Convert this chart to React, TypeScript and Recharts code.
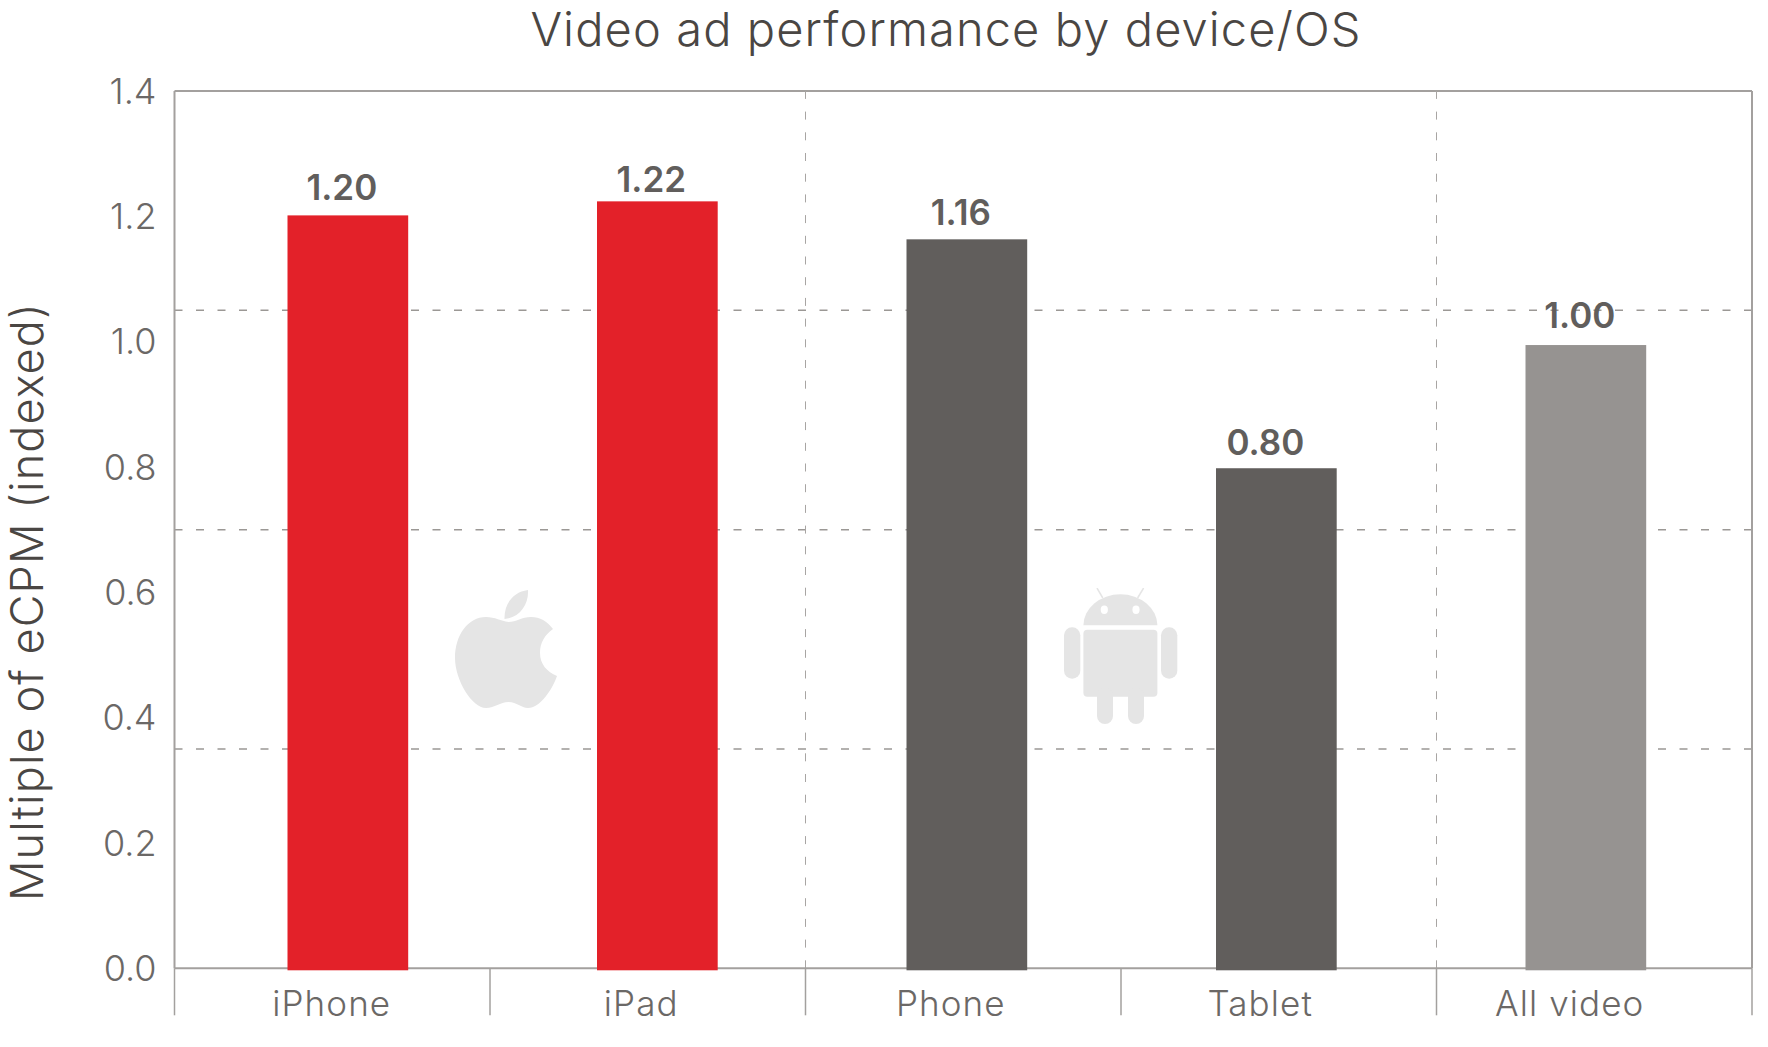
import { BarChart, Bar, XAxis, YAxis, LabelList, ReferenceLine } from 'recharts'

const categories = ['iPhone', 'iPad', 'Phone', 'Tablet', 'All video']
// heights as measured on the bars, printed labels are rounded a bit differently in the source
const values = [1.2015, 1.2239, 1.1633, 0.798, 0.9946]
const printedValues = ['1.20', '1.22', '1.16', '0.80', '1.00']
const labelNudgeX = [0, 0, 0, -5, 0]
const labelNudgeY = [-2, 4, -1, 0, -4]
const barColors = ['#e32129', '#e32129', '#615e5c', '#615e5c', '#969391']
const yTicks = [0, 0.2, 0.4, 0.6, 0.8, 1.0, 1.2, 1.4]
const gridValues = [0.35, 0.7, 1.05]
const sectionEdges = [0, 1, 2, 3, 4, 5]
const dashedEdges = [2, 4]

const data = categories.map((name, i) => ({ name, value: values[i], edge: sectionEdges[i + 1] }))

const FONT = 'Inter, sans-serif'
const LINE = '#a3a09e'
const TEXT = '#615e5c'

const CategoryTick = ({ x, y, payload }: any) => (
    <text x={x - 16.5} y={y + 38.5} textAnchor="middle" fill="#6b6866" fontSize={35} fontWeight={300} letterSpacing={1.1} fontFamily={FONT}>
        {payload.value}
    </text>
)

const EmptyTick = () => <g />

const ValueLabel = ({ x, y, width, index }: any) => (
    <text
        x={x + width / 2 - 6 + labelNudgeX[index]}
        y={y - 13 + labelNudgeY[index]}
        textAnchor="middle"
        fill={TEXT}
        fontSize={35}
        fontWeight={600}
        fontFamily={FONT}
    >
        {printedValues[index]}
    </text>
)

// bars run 2px past the axis line in the original
const BarShape = ({ x, y, width, height, index }: any) => (
    <rect x={x} y={y} width={width} height={height + 2} fill={barColors[index]} />
)

const AppleLogo = () => (
    <svg width={103} height={119} style={{ position: 'absolute', left: 455, top: 590 }}>
        <path
            fill="#e5e5e5"
            d="M53.5 32C46 31 40 27 31 27C13 27 0 45 0 68C0 90 17 118 31 118C40 118 45 112 53.5 112C62 112 66 118 73 118C85 118 97 100 102 86C92 82 85 74 85 63C85 52 90 45 98 39C92 31 85 27 76 27C67 27 61 32 53.5 32ZM49.5 29C49 14 58 2 73 0C74 14 65 28 49.5 29Z"
        />
    </svg>
)

const AndroidLogo = () => (
    <svg width={114} height={137} style={{ position: 'absolute', left: 1064, top: 588 }}>
        <g fill="#e5e5e5">
            <path d="M19.4 37.3A37 31 0 0 1 93.4 37.3Z" />
            <rect x={19.4} y={41.7} width={74} height={67} rx={4} />
            <rect x={0} y={39.3} width={16.3} height={51.4} rx={8} />
            <rect x={97} y={39.3} width={16.3} height={51.4} rx={8} />
            <rect x={33} y={100} width={16} height={36} rx={8} />
            <rect x={64} y={100} width={16} height={36} rx={8} />
        </g>
        <path d="M33 0L38.8 10M79.6 0L73.6 10" stroke="#e5e5e5" strokeWidth={1.5} />
        <ellipse cx={40.3} cy={21.7} rx={3.6} ry={4.2} fill="#fff" />
        <ellipse cx={72} cy={21.7} rx={3.6} ry={4.2} fill="#fff" />
    </svg>
)

export default function App() {
    return (
        <div style={{ position: 'absolute', left: 0, top: 0, width: 1768, height: 1047, background: '#fff', fontFamily: FONT }}>
            <div style={{ position: 'absolute', left: 0, width: 1892, top: 0, textAlign: 'center', fontSize: 47, fontWeight: 300, letterSpacing: 1.1, color: '#4a4643', lineHeight: '58px' }}>
                Video ad performance by device/OS
            </div>
            <BarChart width={1768} height={1047} data={data} margin={{ top: 91, right: 16, bottom: 0, left: 0 }}>
                <XAxis
                    xAxisId="base"
                    type="number"
                    dataKey="edge"
                    domain={[0, 5]}
                    allowDataOverflow
                    ticks={sectionEdges}
                    tick={<EmptyTick />}
                    tickLine={{ stroke: LINE, strokeWidth: 1.5 }}
                    tickSize={47}
                    axisLine={{ stroke: LINE, strokeWidth: 2 }}
                    height={1}
                    interval={0}
                />
                <XAxis
                    xAxisId="labels"
                    dataKey="name"
                    height={77.7}
                    axisLine={false}
                    tickLine={false}
                    tick={<CategoryTick />}
                    padding={{ left: 19, right: 11 }}
                    interval={0}
                />
                <YAxis
                    domain={[0, 1.4]}
                    ticks={yTicks}
                    width={174.5}
                    interval={0}
                    tickFormatter={(v: number) => v.toFixed(1)}
                    tick={{ fill: '#6b6866', fontSize: 36, fontWeight: 300, fontFamily: FONT }}
                    tickLine={false}
                    tickSize={0}
                    tickMargin={18}
                    axisLine={{ stroke: LINE, strokeWidth: 2 }}
                    label={{
                        value: 'Multiple of eCPM (indexed)',
                        angle: -90,
                        position: 'insideLeft',
                        dx: 22,
                        dy: 72,
                        style: { fill: '#4a4643', fontSize: 45, fontWeight: 300, letterSpacing: 1.1, textAnchor: 'middle' },
                    }}
                />
                <ReferenceLine xAxisId="base" y={1.4} stroke={LINE} strokeWidth={2} />
                {gridValues.map((v) => (
                    <ReferenceLine key={v} xAxisId="base" y={v} stroke="#9b9895" strokeWidth={1.5} strokeDasharray="8 13.5" />
                ))}
                {dashedEdges.map((v) => (
                    <ReferenceLine key={v} xAxisId="base" x={v} stroke="#a8a5a3" strokeWidth={1} strokeDasharray="8 12.7" />
                ))}
                <ReferenceLine xAxisId="base" x={5} stroke={LINE} strokeWidth={2} />
                <Bar xAxisId="labels" dataKey="value" barSize={120.7} isAnimationActive={false} shape={<BarShape />} zIndex={600}>
                    <LabelList dataKey="value" content={<ValueLabel />} />
                </Bar>
            </BarChart>
            <AppleLogo />
            <AndroidLogo />
        </div>
    )
}
